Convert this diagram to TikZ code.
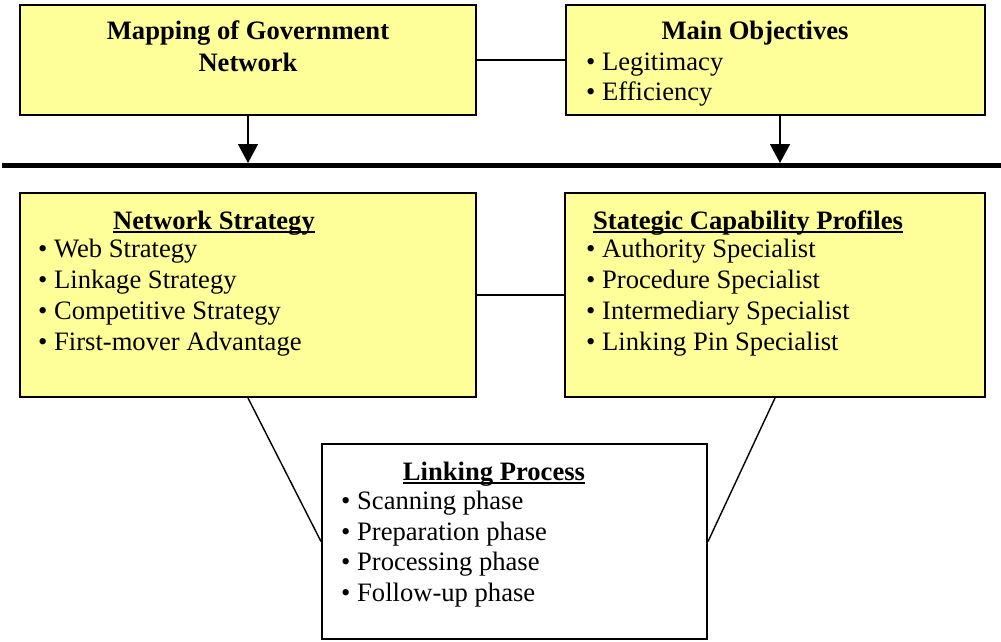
\documentclass[tikz,border=0pt]{standalone}
\usepackage{fontspec}
\setmainfont{Liberation Serif}
\usetikzlibrary{arrows.meta,calc}
\definecolor{boxyellow}{HTML}{FFFF99}
\newcommand\myul[1]{\setbox0\hbox{#1}\rlap{\rule[-3.8pt]{\wd0}{2.3pt}}\box0}
\begin{document}
\begin{tikzpicture}[x=1pt,y=-1pt,
  boxstyle/.style={draw=black,line width=2pt,inner sep=0pt,minimum width=#1},
  ybox/.style={boxstyle=#1,fill=boxyellow},
  wbox/.style={boxstyle=#1,fill=white},
  txt/.style={inner sep=0pt,anchor=base west,font=\fontsize{26.6}{31}\selectfont},
  ttl/.style={inner sep=0pt,anchor=base,font=\fontsize{26.6}{31}\selectfont\bfseries},
  conn/.style={line width=1.4pt},
  arr/.style={line width=1.4pt,-{Triangle[width=20pt,length=19pt]}}]
\useasboundingbox (0,0) rectangle (1001,641);
% boxes
\node[ybox=456pt,minimum height=110pt] (map) at (248,60) {};
\node[ybox=419pt,minimum height=110pt] (mo) at (775.5,60) {};
\node[ybox=456pt,minimum height=204pt] (ns) at (248,295) {};
\node[ybox=420pt,minimum height=204pt] (cap) at (775,295) {};
\node[wbox=385pt,minimum height=195pt] (lp) at (514.5,541.5) {};
% thick bar
\coordinate (barL) at (2,165);
\coordinate (barR) at (1001,165);
\draw[line width=5pt] (barL) -- (barR);
% connectors
\draw[conn] (map.east) -- (mo.west);
\draw[conn] (ns.east) -- (cap.west);
\draw[conn] (ns.south) -- (lp.west);
\draw[conn] (cap.south) -- (lp.east);
\coordinate (a1) at (248,163);
\coordinate (a2s) at (780,115);
\coordinate (a2) at (780,163);
\draw[arr] (map.south) -- (a1);
\draw[arr] (a2s) -- (a2);
% texts
\node[ttl] (t1) at (248,39) {Mapping of Government};
\node[ttl] (t2) at (248,71) {Network};
\node[ttl] (t3) at (755,39) {Main Objectives};
\node[txt] (m1) at (586,70) {• Legitimacy};
\node[txt] (m2) at (586,100) {• Efficiency};
\node[ttl] (t4) at (214,229) {\myul{Network Strategy}};
\node[txt] (n1) at (38,257) {• Web Strategy};
\node[txt] (n2) at (38,288) {• Linkage Strategy};
\node[txt] (n3) at (38,319) {• Competitive Strategy};
\node[txt] (n4) at (38,350) {• First-mover Advantage};
\node[ttl] (t5) at (748,229) {\myul{Stategic Capability Profiles}};
\node[txt] (c1) at (586,257) {• Authority Specialist};
\node[txt] (c2) at (586,288) {• Procedure Specialist};
\node[txt] (c3) at (586,319) {• Intermediary Specialist};
\node[txt] (c4) at (586,350) {• Linking Pin Specialist};
\node[ttl] (t6) at (494,480) {\myul{Linking Process}};
\node[txt] (l1) at (341,509) {• Scanning phase};
\node[txt] (l2) at (341,540) {• Preparation phase};
\node[txt] (l3) at (341,570) {• Processing phase};
\node[txt] (l4) at (341,601) {• Follow-up phase};
\end{tikzpicture}
\end{document}
